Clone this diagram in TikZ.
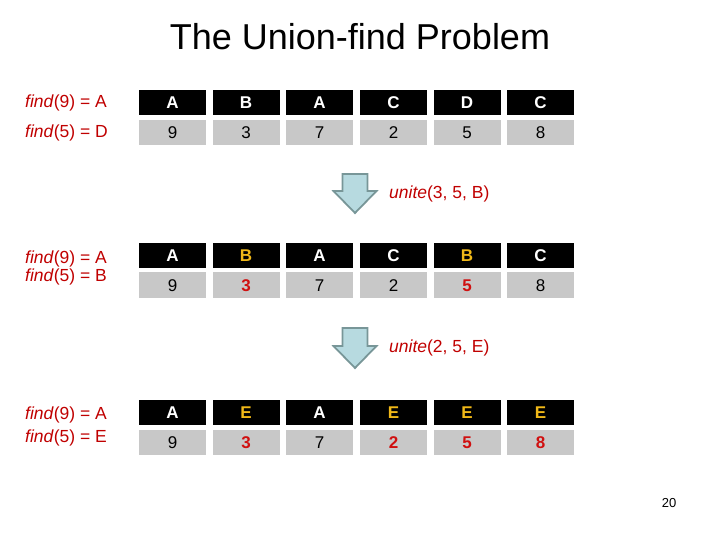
\documentclass[tikz,border=0pt]{standalone}
\usepackage{fontspec}
\setmainfont{Liberation Sans}
\definecolor{hdr}{RGB}{0,0,0}
\definecolor{cellgray}{RGB}{200,200,200}
\definecolor{hl}{RGB}{240,184,24}
\definecolor{lblred}{RGB}{192,0,0}
\definecolor{numred}{RGB}{208,16,16}
\definecolor{arrfill}{RGB}{183,218,224}
\definecolor{arrline}{RGB}{120,150,152}
\tikzset{
  hcell/.style={fill=hdr, minimum width=67pt, minimum height=25pt, inner sep=0pt, text=white, text height=12.3pt, text depth=0pt, font=\fontsize{17}{20}\selectfont\bfseries},
  dcell/.style={fill=cellgray, minimum width=67pt, minimum height=25.5pt, inner sep=0pt, text=black, text height=12.3pt, text depth=0pt, font=\fontsize{17}{20}\selectfont},
  hi/.style={text=hl},
  rd/.style={text=numred, font=\fontsize{17}{20}\selectfont\bfseries},
  lbl/.style={anchor=west, text=lblred, font=\fontsize{17.5}{20}\selectfont, inner sep=0pt},
  oplbl/.style={anchor=west, text=lblred, font=\fontsize{17.5}{20}\selectfont, inner sep=0pt},
  blockarrow/.style={fill=arrfill, draw=arrline, line width=1.8pt, line join=miter}
}
\begin{document}
\begin{tikzpicture}[x=1pt,y=-1pt]
\useasboundingbox (0,0) rectangle (720,540);
\node (title) at (360,37) {\fontsize{36}{40}\selectfont The Union-find Problem};
% table 1
\node[hcell] (a1) at (172.5,102.5) {A};
\node[hcell] (b1) at (246,102.5) {B};
\node[hcell] (c1) at (319.5,102.5) {A};
\node[hcell] (d1) at (393.5,102.5) {C};
\node[hcell] (e1) at (467,102.5) {D};
\node[hcell] (f1) at (540.5,102.5) {C};
\node[dcell] (a1v) at (172.5,132.5) {9};
\node[dcell] (b1v) at (246,132.5) {3};
\node[dcell] (c1v) at (319.5,132.5) {7};
\node[dcell] (d1v) at (393.5,132.5) {2};
\node[dcell] (e1v) at (467,132.5) {5};
\node[dcell] (f1v) at (540.5,132.5) {8};
\node[lbl] (l1a) at (25,102.5) {\textit{find}(9) = A};
\node[lbl] (l1b) at (25,132.5) {\textit{find}(5) = D};
% arrow 1
\draw[blockarrow] (342.5,174) -- (367.5,174) -- (367.5,191) -- (376.5,191) -- (355,213) -- (333.5,191) -- (342.5,191) -- cycle;
\node[oplbl] (op1) at (389,194) {\textit{unite}(3, 5, B)};
% table 2
\node[hcell] (a2) at (172.5,255) {A};
\node[hcell,hi] (b2) at (246,255) {B};
\node[hcell] (c2) at (319.5,255) {A};
\node[hcell] (d2) at (393.5,255) {C};
\node[hcell,hi] (e2) at (467,255) {B};
\node[hcell] (f2) at (540.5,255) {C};
\node[dcell] (a2v) at (172.5,285) {9};
\node[dcell,rd] (b2v) at (246,285) {3};
\node[dcell] (c2v) at (319.5,285) {7};
\node[dcell] (d2v) at (393.5,285) {2};
\node[dcell,rd] (e2v) at (467,285) {5};
\node[dcell] (f2v) at (540.5,285) {8};
\node[lbl] (l2a) at (25,258.5) {\textit{find}(9) = A};
\node[lbl] (l2b) at (25,277) {\textit{find}(5) = B};
% arrow 2
\draw[blockarrow] (342.5,328) -- (367.5,328) -- (367.5,346) -- (376.5,346) -- (355,368) -- (333.5,346) -- (342.5,346) -- cycle;
\node[oplbl] (op2) at (389,348) {\textit{unite}(2, 5, E)};
% table 3
\node[hcell] (a3) at (172.5,412.5) {A};
\node[hcell,hi] (b3) at (246,412.5) {E};
\node[hcell] (c3) at (319.5,412.5) {A};
\node[hcell,hi] (d3) at (393.5,412.5) {E};
\node[hcell,hi] (e3) at (467,412.5) {E};
\node[hcell,hi] (f3) at (540.5,412.5) {E};
\node[dcell] (a3v) at (172.5,442.5) {9};
\node[dcell,rd] (b3v) at (246,442.5) {3};
\node[dcell] (c3v) at (319.5,442.5) {7};
\node[dcell,rd] (d3v) at (393.5,442.5) {2};
\node[dcell,rd] (e3v) at (467,442.5) {5};
\node[dcell,rd] (f3v) at (540.5,442.5) {8};
\node[lbl] (l3a) at (25,414.5) {\textit{find}(9) = A};
\node[lbl] (l3b) at (25,438) {\textit{find}(5) = E};
\node (pg) at (669,503.5) {\fontsize{13}{15}\selectfont 20};
\end{tikzpicture}
\end{document}
